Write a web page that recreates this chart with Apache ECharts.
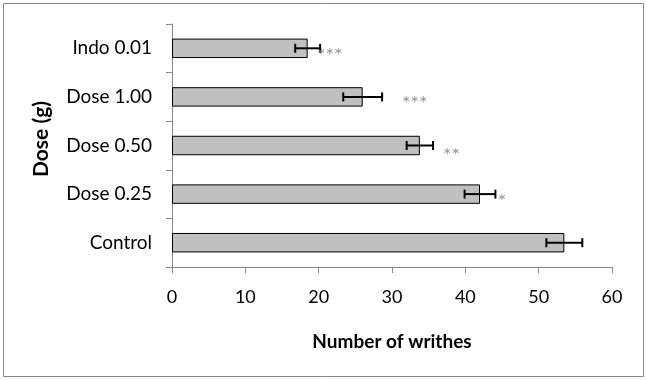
<!DOCTYPE html>
<html>
<head>
<meta charset="utf-8">
<script src="https://cdn.jsdelivr.net/npm/echarts@6/dist/echarts.min.js"></script>
<style>html,body{margin:0;padding:0;background:#fff;}#c{width:647px;height:380px;}</style>
</head>
<body>
<div id="c"></div>
<script>
const categories = ['Control', 'Dose 0.25', 'Dose 0.50', 'Dose 1.00', 'Indo 0.01'];
const means = [53.5, 42.0, 33.8, 26.0, 18.5];
const errors = [2.45, 2.1, 1.8, 2.65, 1.7];
const starLabels = ['', '*', '**', '***', '***'];
const starX = [null, 45.0, 38.1, 33.1, 21.5];
const xTicks = [0, 10, 20, 30, 40, 50, 60];

const chart = echarts.init(document.getElementById('c'));
const FONT = 'Lato';

const errData = categories.map((c, i) => [means[i] - errors[i], means[i] + errors[i], i]);
const starData = [];
categories.forEach((c, i) => {
  if (starLabels[i]) starData.push({ value: [starX[i], i], label: { formatter: starLabels[i], offset: [0, i === 2 ? 10 : 7] } });
});

chart.setOption({
  animation: false,
  backgroundColor: '#fff',
  graphic: [{
    type: 'rect', shape: { x: 3.5, y: 3.5, width: 640, height: 373 },
    style: { fill: 'none', stroke: '#868686', lineWidth: 1 }
  }, {
    type: 'text', x: 41, y: 139, rotation: Math.PI / 2,
    style: { text: 'Dose (g)', fontFamily: FONT, fontWeight: 'bold', fontSize: 21, fill: '#000', align: 'center', verticalAlign: 'middle' }
  }],
  grid: { left: 172, right: 35, top: 24, bottom: 113, outerBoundsMode: 'none', containLabel: false },
  xAxis: {
    type: 'value', min: xTicks[0], max: xTicks[xTicks.length - 1], interval: 10,
    name: 'Number of writhes', nameLocation: 'middle', nameGap: 65,
    nameTextStyle: { fontFamily: FONT, fontWeight: 'bold', fontSize: 19, color: '#000' },
    axisLine: { show: true, lineStyle: { color: '#868686', width: 1 } },
    axisTick: { show: true, length: 6, lineStyle: { color: '#868686' } },
    axisLabel: { fontFamily: FONT, fontSize: 18, color: '#000', margin: 21 },
    splitLine: { show: false }
  },
  yAxis: {
    type: 'category', data: categories,
    axisLine: { show: true, lineStyle: { color: '#868686', width: 1 } },
    axisTick: { show: true, length: 6, lineStyle: { color: '#868686' } },
    axisLabel: { fontFamily: FONT, fontSize: 19, color: '#000', margin: 20 }
  },
  series: [
    {
      type: 'bar', data: means, barWidth: '40%',
      itemStyle: { color: '#c0c0c0', borderColor: '#000', borderWidth: 1 },
      z: 2
    },
    {
      type: 'custom', data: errData, z: 5,
      renderItem: function (params, api) {
        const y = api.value(2);
        const p1 = api.coord([api.value(0), y]);
        const p2 = api.coord([api.value(1), y]);
        const h = 4.5;
        const st = { stroke: '#000', lineWidth: 2 };
        return {
          type: 'group', children: [
            { type: 'line', shape: { x1: p1[0], y1: p1[1], x2: p2[0], y2: p2[1] }, style: st },
            { type: 'line', shape: { x1: p1[0], y1: p1[1] - h, x2: p1[0], y2: p1[1] + h }, style: st },
            { type: 'line', shape: { x1: p2[0], y1: p2[1] - h, x2: p2[0], y2: p2[1] + h }, style: st }
          ]
        };
      }
    },
    {
      type: 'scatter', data: starData, symbolSize: 0, z: 6,
      label: { show: true, position: 'inside', fontFamily: FONT, fontSize: 20, color: '#7a7a7a' }
    }
  ]
});
</script>
</body>
</html>
